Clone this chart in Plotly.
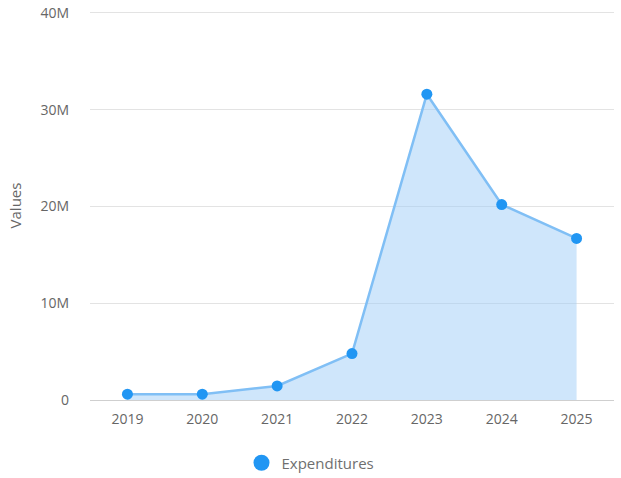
import plotly.graph_objects as go

years = ["2019", "2020", "2021", "2022", "2023", "2024", "2025"]
expenditures = [0.6e6, 0.6e6, 1.45e6, 4.8e6, 31.6e6, 20.2e6, 16.7e6]
y_tickvals = [0, 10e6, 20e6, 30e6, 40e6]
y_ticktext = ["0", "10M", "20M", "30M", "40M"]

font_family = "'Open Sans', 'Noto Sans', sans-serif"

fig = go.Figure()
fig.add_trace(go.Scatter(
    x=years, y=expenditures, mode="lines+markers", name="Expenditures",
    fill="tozeroy", fillcolor="rgba(160,205,248,0.5)",
    line=dict(color="#80bff5", width=2.5),
    marker=dict(color="#2196f3", size=11),
    showlegend=False, hoverinfo="x+y",
))
fig.add_trace(go.Scatter(
    x=[None], y=[None], mode="markers", name="Expenditures",
    marker=dict(color="#2196f3", size=16), showlegend=True,
))

fig.update_layout(
    width=621, height=478,
    margin=dict(l=90, r=7, t=11, b=78, autoexpand=False),
    paper_bgcolor="white", plot_bgcolor="white",
    font=dict(family=font_family, size=14, color="#666666"),
    showlegend=True,
    legend=dict(orientation="h", x=0.5, xanchor="center", xref="container",
                y=1 - 463 / 478, yanchor="middle", yref="container",
                font=dict(size=15, color="#6f6f6f"), itemsizing="trace"),
    xaxis=dict(type="category", range=[-0.5, 6.5], showgrid=False,
               showline=False, ticks="", zeroline=False, automargin=False,
               ticklabelstandoff=9,
               tickfont=dict(size=14, color="#666666")),
    yaxis=dict(range=[0, 40.2e6], tickvals=y_tickvals, ticktext=y_ticktext,
               showgrid=True, gridcolor="#e3e3e3", gridwidth=1,
               zeroline=True, zerolinecolor="#cfcfcf", zerolinewidth=1,
               showline=False, ticks="", ticklabelstandoff=20, automargin=False,
               tickfont=dict(size=14, color="#666666"),
               title=dict(text="Values", font=dict(size=15, color="#666666"))),
)

fig.write_html("out.html", config={"displayModeBar": False},
               post_script="document.body.style.margin='0';document.body.style.overflow='hidden';")
